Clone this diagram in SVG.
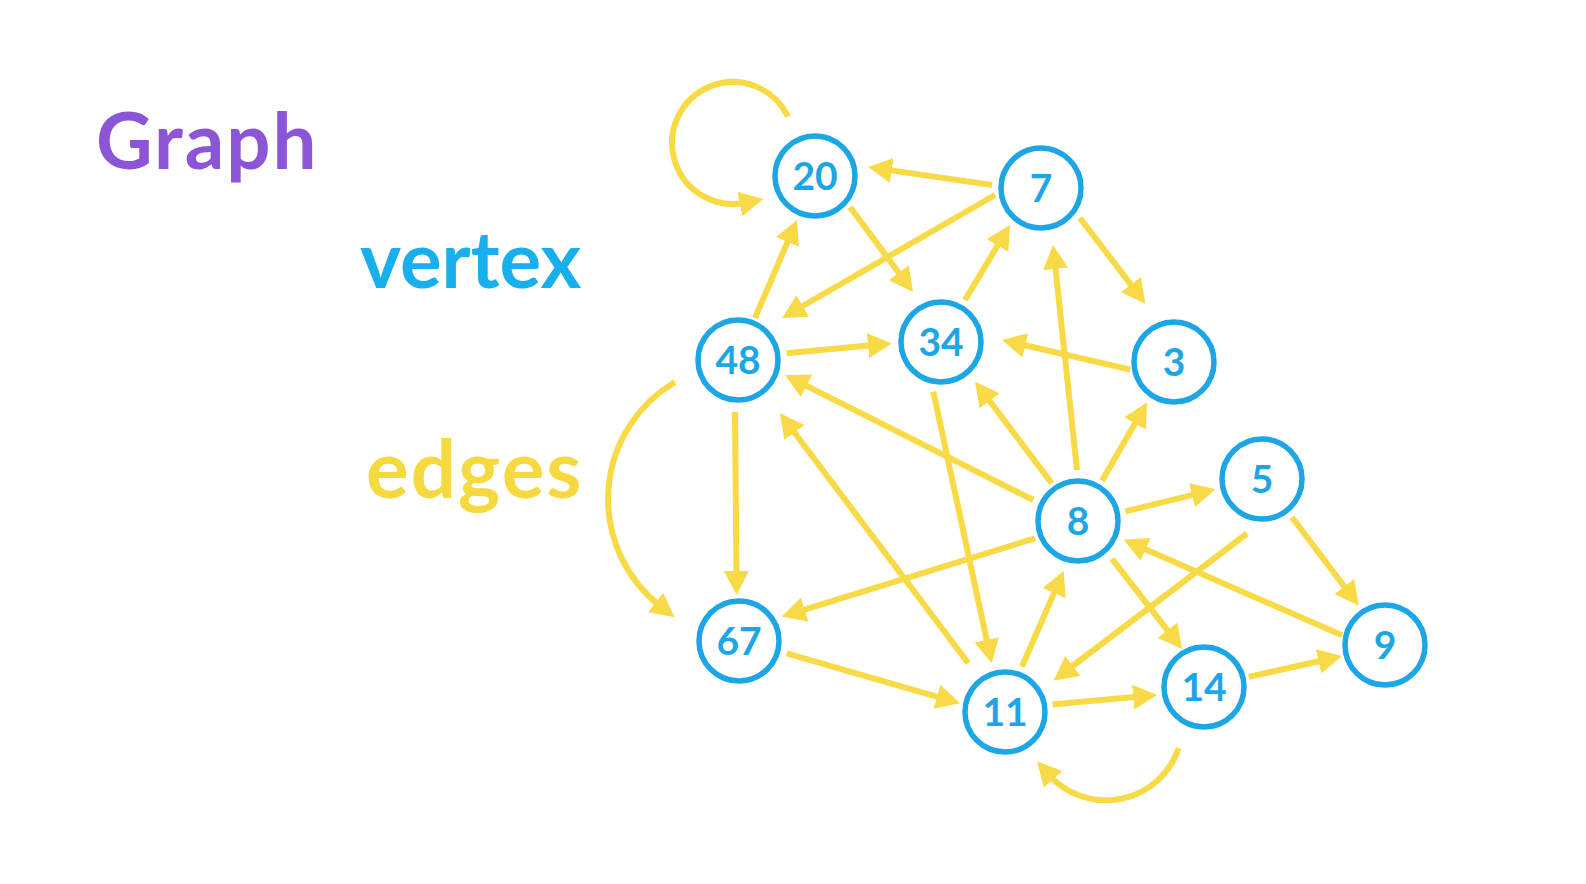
<svg xmlns="http://www.w3.org/2000/svg" width="1586" height="884" viewBox="0 0 1586 884">
<style>
.lbl{font-family:Lato,"Open Sans","Liberation Sans",sans-serif;font-weight:700;}
.edge{fill:none;stroke:#F8D946;stroke-width:6;marker-end:url(#ah);}
.node circle{fill:#ffffff;stroke:#1CA6E6;stroke-width:5.5;}
.node text{font-family:Lato,"Open Sans","Liberation Sans",sans-serif;font-weight:700;font-size:39px;fill:#1CA6E6;text-anchor:middle;}
</style>
<defs>
<marker id="ah" markerUnits="userSpaceOnUse" viewBox="0 0 24 25" markerWidth="24" markerHeight="25" refX="6" refY="12.5" orient="auto">
<path d="M0,0 L24,12.5 L0,25 z" fill="#F8D946"/>
</marker>
</defs>
<rect width="1586" height="884" fill="#ffffff"/>
<g id="titles">
<text class="lbl" x="96" y="169" font-size="78" letter-spacing="2" fill="#8B55D6">Graph</text>
<text class="lbl" x="360" y="288" font-size="78" fill="#18AFEC">vertex</text>
<text class="lbl" x="366" y="498" font-size="80" letter-spacing="2" fill="#F6D93F">edges</text>
</g>
<g id="connectors">
<line class="edge" x1="992" y1="185" x2="885.8" y2="169.6"/>
<line class="edge" x1="995" y1="195" x2="797.6" y2="309"/>
<line class="edge" x1="1080" y1="218" x2="1134.5" y2="289.4"/>
<line class="edge" x1="850" y1="207" x2="902.3" y2="277.5"/>
<line class="edge" x1="755" y1="318" x2="789.9" y2="236.5"/>
<line class="edge" x1="965" y1="300" x2="1000.7" y2="240.4"/>
<line class="edge" x1="786.7" y1="353.3" x2="874" y2="345.1"/>
<line class="edge" x1="1130.4" y1="369.6" x2="1019.5" y2="344"/>
<line class="edge" x1="1033.3" y1="500" x2="801.1" y2="383.1"/>
<line class="edge" x1="1051.7" y1="483.3" x2="985.9" y2="396"/>
<line class="edge" x1="1077" y1="470" x2="1054.9" y2="262.9"/>
<line class="edge" x1="1102" y1="480.7" x2="1138" y2="418.2"/>
<line class="edge" x1="1125.4" y1="511.3" x2="1197.9" y2="493.6"/>
<line class="edge" x1="1035" y1="538.3" x2="798.9" y2="611.3"/>
<line class="edge" x1="1112" y1="558.9" x2="1171" y2="634.9"/>
<line class="edge" x1="1342" y1="635.3" x2="1140.2" y2="547"/>
<line class="edge" x1="1292" y1="517.2" x2="1347.9" y2="591.3"/>
<line class="edge" x1="1247" y1="533.5" x2="1068" y2="669.5"/>
<line class="edge" x1="1248.7" y1="676.9" x2="1324.4" y2="660"/>
<line class="edge" x1="1052.5" y1="704.5" x2="1139.1" y2="696.6"/>
<line class="edge" x1="1022" y1="666.5" x2="1056.5" y2="587.5"/>
<line class="edge" x1="968.3" y1="663.3" x2="790.8" y2="427.7"/>
<line class="edge" x1="933.3" y1="391.7" x2="987.9" y2="645.7"/>
<line class="edge" x1="735" y1="411.7" x2="736.5" y2="577"/>
<line class="edge" x1="786.7" y1="653.3" x2="942.7" y2="698.3"/>
<path class="edge" d="M675,382 A136,136 0 0 0 660.3,606.2"/>
<path class="edge" d="M788,116.5 A61,61 0 1 0 745.7,202.7"/>
<path class="edge" d="M1178.7,748.1 A76.6,76.6 0 0 1 1049.1,774.9"/>
</g>
<g id="node-20" class="node"><circle cx="815" cy="176" r="40"/><text x="815" y="190">20</text></g>
<g id="node-7" class="node"><circle cx="1041" cy="188" r="40"/><text x="1041" y="202">7</text></g>
<g id="node-48" class="node"><circle cx="738" cy="360" r="40"/><text x="738" y="374">48</text></g>
<g id="node-34" class="node"><circle cx="941" cy="342" r="40"/><text x="941" y="356">34</text></g>
<g id="node-3" class="node"><circle cx="1174" cy="362" r="40"/><text x="1174" y="376">3</text></g>
<g id="node-5" class="node"><circle cx="1262" cy="479" r="40"/><text x="1262" y="493">5</text></g>
<g id="node-8" class="node"><circle cx="1078" cy="521" r="40"/><text x="1078" y="535">8</text></g>
<g id="node-67" class="node"><circle cx="739" cy="641" r="40"/><text x="739" y="655">67</text></g>
<g id="node-11" class="node"><circle cx="1005" cy="712" r="40"/><text x="1005" y="726">11</text></g>
<g id="node-14" class="node"><circle cx="1204" cy="687" r="40"/><text x="1204" y="701">14</text></g>
<g id="node-9" class="node"><circle cx="1385" cy="645" r="40"/><text x="1385" y="659">9</text></g>
</svg>
